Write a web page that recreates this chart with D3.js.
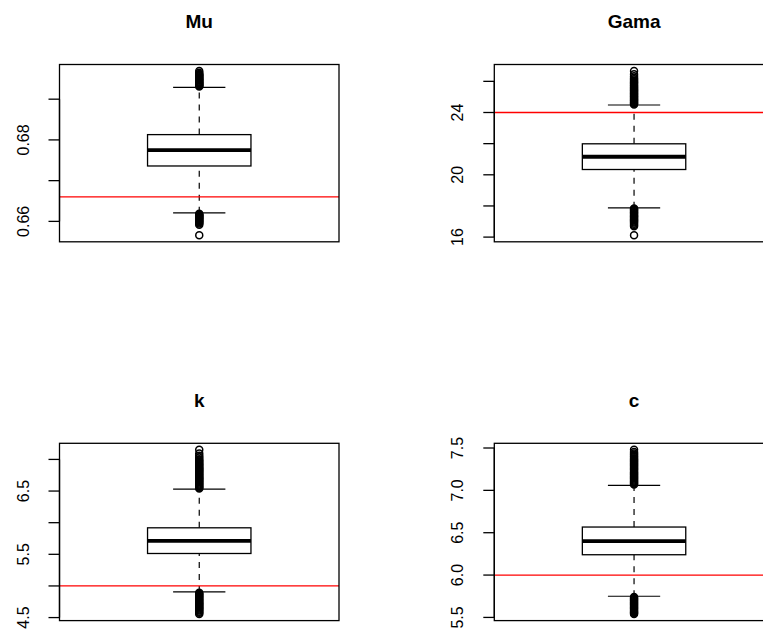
<!DOCTYPE html>
<html>
<head>
<meta charset="utf-8">
<script src="https://cdn.jsdelivr.net/npm/d3@7"></script>
<style>
  body { margin: 0; background: #fff; }
  svg { display: block; font-family: "Liberation Sans", Arial, Helvetica, sans-serif; }
</style>
</head>
<body>
<div id="chart"></div>
<script>
// ---------- data ----------
// stats: [lower whisker, Q1, median, Q3, upper whisker]
const panelNames = ["Mu", "Gama", "k", "c"];

const muStats = [0.6621, 0.6736, 0.6775, 0.6813, 0.6929];
const muOutliers = [0.6931, 0.6933, 0.6934, 0.6936, 0.6938, 0.6940, 0.6941, 0.6943, 0.6945, 0.6947,
  0.6948, 0.6950, 0.6952, 0.6954, 0.6956, 0.6958, 0.6960, 0.6962, 0.6965, 0.6969,
  0.6619, 0.6617, 0.6615, 0.6614, 0.6612, 0.6610, 0.6608, 0.6607, 0.6605, 0.6603,
  0.6601, 0.6599, 0.6597, 0.6595, 0.6592, 0.6566];
const muTrue = 0.666;
const muTicks = [0.66, 0.67, 0.68, 0.69];
const muTickLabels = ["0.66", "", "0.68", ""];

const gamaStats = [17.88, 20.34, 21.16, 21.99, 24.48];
const gamaOutliers = [24.52, 24.58, 24.63, 24.69, 24.75, 24.80, 24.86, 24.92, 24.98, 25.03,
  25.09, 25.15, 25.21, 25.27, 25.33, 25.39, 25.45, 25.51, 25.58, 25.64,
  25.70, 25.77, 25.84, 25.91, 25.98, 26.05, 26.13, 26.22, 26.33, 26.45, 26.66,
  17.84, 17.78, 17.72, 17.66, 17.60, 17.54, 17.48, 17.42, 17.36, 17.30,
  17.24, 17.18, 17.12, 17.06, 17.00, 16.93, 16.86, 16.78, 16.69, 16.12];
const gamaTrue = 24;
const gamaTicks = [16, 18, 20, 22, 24, 26];
const gamaTickLabels = ["16", "", "20", "", "24", ""];

const kStats = [4.905, 5.513, 5.713, 5.919, 6.532];
const kOutliers = [6.542, 6.556, 6.571, 6.587, 6.602, 6.618, 6.634, 6.649, 6.665, 6.681,
  6.697, 6.712, 6.728, 6.744, 6.760, 6.776, 6.792, 6.808, 6.824, 6.840,
  6.857, 6.873, 6.890, 6.907, 6.925, 6.943, 6.962, 6.982, 7.004, 7.029,
  7.058, 7.094, 7.151,
  4.893, 4.878, 4.862, 4.846, 4.830, 4.815, 4.799, 4.783, 4.768, 4.752,
  4.736, 4.720, 4.705, 4.689, 4.673, 4.658, 4.642, 4.626, 4.610, 4.594,
  4.578, 4.556];
const kTrue = 5.0;
const kTicks = [4.5, 5.0, 5.5, 6.0, 6.5, 7.0];
const kTickLabels = ["4.5", "", "5.5", "", "6.5", ""];

const cStats = [5.75, 6.24, 6.40, 6.567, 7.06];
const cOutliers = [7.068, 7.080, 7.092, 7.104, 7.116, 7.128, 7.140, 7.152, 7.164, 7.176,
  7.188, 7.200, 7.212, 7.224, 7.236, 7.248, 7.260, 7.272, 7.284, 7.296,
  7.308, 7.320, 7.332, 7.344, 7.356, 7.368, 7.380, 7.393, 7.406, 7.420,
  7.435, 7.452, 7.478,
  5.742, 5.730, 5.718, 5.706, 5.694, 5.682, 5.670, 5.658, 5.646, 5.634,
  5.622, 5.610, 5.598, 5.586, 5.574, 5.562, 5.551, 5.540];
const cTrue = 6.0;
const cTicks = [5.5, 6.0, 6.5, 7.0, 7.5];
const cTickLabels = ["5.5", "6.0", "6.5", "7.0", "7.5"];

const panels = [
  { name: panelNames[0], stats: muStats, out: muOutliers, ref: muTrue, ticks: muTicks, labels: muTickLabels },
  { name: panelNames[1], stats: gamaStats, out: gamaOutliers, ref: gamaTrue, ticks: gamaTicks, labels: gamaTickLabels },
  { name: panelNames[2], stats: kStats, out: kOutliers, ref: kTrue, ticks: kTicks, labels: kTickLabels },
  { name: panelNames[3], stats: cStats, out: cOutliers, ref: cTrue, ticks: cTicks, labels: cTickLabels }
];

// ---------- layout ----------
const W = 763, H = 635;
const plotW = 279.5;
const colX = [59.5, 494.3];
const rowY = [64.5, 443.3];
const plotH = 177.3;
const boxHalf = 0.185, capHalf = 0.0935;   // in x-scale units

const svg = d3.select("#chart").append("svg").attr("width", W).attr("height", H);

panels.forEach((p, i) => {
  const x0 = colX[i % 2], y0 = rowY[Math.floor(i / 2)];
  const g = svg.append("g").attr("transform", `translate(${x0},${y0})`);

  // R style: data range stretched by 4% on each side
  const ext = d3.extent(p.stats.concat(p.out));
  const pad = (ext[1] - ext[0]) * 0.04;
  const y = d3.scaleLinear().domain([ext[0] - pad, ext[1] + pad]).range([plotH, 0]);
  const x = d3.scaleLinear().domain([0.5, 1.5]).range([0, plotW]);

  const clipId = "clip" + i;
  g.append("clipPath").attr("id", clipId)
    .append("rect").attr("width", plotW).attr("height", plotH);
  const body = g.append("g").attr("clip-path", `url(#${clipId})`);

  const [lo, q1, med, q3, hi] = p.stats;

  // whiskers
  body.selectAll("line.whisker").data([[lo, q1], [q3, hi]]).enter().append("line")
    .attr("x1", x(1)).attr("x2", x(1))
    .attr("y1", d => y(d[0])).attr("y2", d => y(d[1]))
    .attr("stroke", "#000").attr("stroke-width", 1.2).attr("stroke-dasharray", "6,6");
  body.selectAll("line.cap").data([lo, hi]).enter().append("line")
    .attr("x1", x(1 - capHalf)).attr("x2", x(1 + capHalf))
    .attr("y1", d => y(d)).attr("y2", d => y(d))
    .attr("stroke", "#000").attr("stroke-width", 1.2);

  // box + median
  body.append("rect")
    .attr("x", x(1 - boxHalf)).attr("width", x(1 + boxHalf) - x(1 - boxHalf))
    .attr("y", y(q3)).attr("height", y(q1) - y(q3))
    .attr("fill", "#fff").attr("stroke", "#000").attr("stroke-width", 1.3);
  body.append("line")
    .attr("x1", x(1 - boxHalf)).attr("x2", x(1 + boxHalf))
    .attr("y1", y(med)).attr("y2", y(med))
    .attr("stroke", "#000").attr("stroke-width", 3.8);

  // outliers
  body.append("g").selectAll("circle").data(p.out).enter().append("circle")
    .attr("cx", x(1)).attr("cy", d => y(d)).attr("r", 3.5)
    .attr("fill", "none").attr("stroke", "#000").attr("stroke-width", 1.5);

  // reference line
  body.append("line")
    .attr("x1", 0).attr("x2", plotW)
    .attr("y1", y(p.ref)).attr("y2", y(p.ref))
    .attr("stroke", "#ff0000").attr("stroke-width", 1.3);

  // frame
  g.append("rect").attr("width", plotW).attr("height", plotH)
    .attr("fill", "none").attr("stroke", "#000").attr("stroke-width", 1.3);

  // y axis (ticks + rotated labels)
  const axis = g.append("g");
  axis.append("line")
    .attr("x1", 0).attr("x2", 0)
    .attr("y1", y(d3.min(p.ticks))).attr("y2", y(d3.max(p.ticks)))
    .attr("stroke", "#000").attr("stroke-width", 1.3);
  axis.selectAll("line.tick").data(p.ticks).enter().append("line")
    .attr("x1", -11).attr("x2", 0)
    .attr("y1", d => y(d)).attr("y2", d => y(d))
    .attr("stroke", "#000").attr("stroke-width", 1.3);
  axis.selectAll("text").data(p.ticks.map((t, j) => ({ t, lab: p.labels[j] })).filter(d => d.lab))
    .enter().append("text")
    .attr("transform", d => `translate(-36.5,${y(d.t)}) rotate(-90)`)
    .attr("text-anchor", "middle").attr("dominant-baseline", "central")
    .style("font-size", "16px")
    .text(d => d.lab);

  // title
  g.append("text")
    .attr("x", x(1)).attr("y", -36.5)
    .attr("text-anchor", "middle")
    .style("font-size", "19px").style("font-weight", "bold")
    .text(p.name);
});
</script>
</body>
</html>
